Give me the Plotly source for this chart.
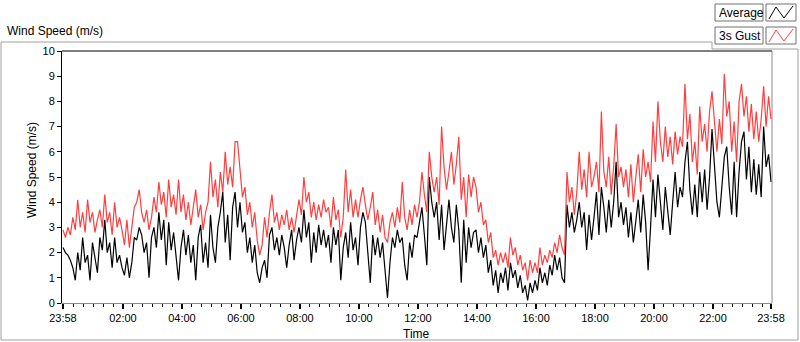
import plotly.graph_objects as go

# time in minutes after 23:58 (start of record), 5-minute steps
minutes = list(range(0, 1445, 5))

gust_3s = [
    # 23:58
    2.9, 2.6, 3.0, 2.7, 3.4, 2.9, 4.1, 3.0, 3.6, 2.8, 4.1, 3.2,
    # 00:58
    3.6, 2.8, 3.3, 3.7, 3.0, 4.3, 3.2, 3.6, 2.7, 4.0, 3.0, 3.4,
    # 01:58
    2.9, 2.3, 3.3, 2.2, 3.0, 3.8, 4.0, 4.5, 3.6, 3.2, 3.7, 2.9,
    # 02:58
    3.4, 4.2, 3.6, 4.8, 3.9, 4.4, 3.4, 4.9, 3.8, 4.3, 3.5, 4.9,
    # 03:58
    3.6, 4.3, 3.3, 4.0, 3.1, 3.8, 4.5, 3.4, 3.9, 2.9, 3.6, 4.0,
    # 04:58
    5.6, 4.2, 4.9, 3.8, 5.2, 4.4, 6.0, 4.7, 5.4, 4.6, 6.4, 6.4,
    # 05:58
    5.4, 4.2, 4.6, 3.5, 4.0, 3.0, 3.6, 2.5, 1.9, 2.3, 3.4, 2.6,
    # 06:58
    3.6, 4.3, 3.2, 3.6, 2.9, 3.5, 3.1, 3.7, 2.9, 3.4, 2.8, 3.5,
    # 07:58
    4.1, 3.5, 5.0, 4.0, 4.4, 3.4, 4.0, 3.3, 3.9, 3.4, 4.1, 3.6,
    # 08:58
    3.8, 3.0, 4.2, 3.3, 3.7, 2.6, 3.4, 5.3, 3.6, 4.5, 3.4, 4.1,
    # 09:58
    3.4, 4.1, 4.6, 3.9, 3.3, 3.8, 4.4, 3.1, 3.7, 2.8, 3.5, 2.6,
    # 10:58
    2.4, 3.2, 3.6, 3.0, 3.8, 3.2, 4.8, 3.4, 2.9, 3.7, 3.1, 3.9,
    # 11:58
    3.4, 4.0, 5.2, 4.3, 3.6, 6.0, 5.0, 4.4, 5.0, 3.9, 7.0, 5.4,
    # 12:58
    4.5, 5.2, 6.0, 4.7, 5.5, 6.6, 4.1, 5.0, 3.4, 5.1, 4.2, 5.0,
    # 13:58
    4.6, 3.6, 4.0, 3.1, 3.3, 2.4, 2.8, 1.8, 2.1, 1.5, 2.0, 1.6,
    # 14:58
    2.0, 1.4, 2.6, 1.9, 2.2, 1.5, 1.9, 1.3, 1.6, 0.9, 1.7, 1.2,
    # 15:58
    1.6, 1.2, 2.2, 1.5, 1.9, 1.6, 2.1, 1.8, 2.4, 2.0, 2.7, 2.2,
    # 16:58
    1.9, 5.2, 4.0, 4.6, 3.5, 4.4, 6.0, 4.5, 5.3, 4.2, 6.0, 4.6,
    # 17:58
    5.0, 5.6, 4.4, 7.6, 5.2, 4.6, 5.8, 4.3, 5.4, 7.1, 5.0, 5.4,
    # 18:58
    4.6, 5.3, 4.2, 5.5, 4.0, 5.0, 5.9, 4.4, 6.1, 5.0, 5.6, 4.8,
    # 19:58
    7.2, 5.6, 8.0, 6.4, 5.6, 7.0, 5.8, 6.6, 5.5, 6.8, 5.9, 6.6,
    # 20:58
    6.2, 8.7, 6.5, 7.5, 5.6, 6.4, 5.1, 7.8, 6.4, 7.1, 6.0, 7.6,
    # 21:58
    8.4, 7.2, 6.0, 7.3, 6.3, 9.1, 7.4, 8.0, 6.0, 7.2, 5.6, 8.0,
    # 22:58
    8.7, 7.4, 8.2, 6.8, 7.9, 6.5, 7.6, 6.4, 7.3, 8.6, 7.0, 8.2,
    # 23:58
    7.3,
]

average = [
    # 23:58
    2.2, 2.0, 1.9, 1.7, 1.4, 0.9, 2.0, 1.3, 2.6, 1.6, 1.9, 0.9,
    # 00:58
    2.4, 1.8, 1.2, 2.6, 2.1, 3.3, 2.0, 2.4, 1.4, 2.6, 1.6, 1.9,
    # 01:58
    1.4, 1.1, 1.8, 1.0, 1.6, 2.6, 2.5, 3.0, 2.7, 2.0, 2.4, 1.0,
    # 02:58
    2.6, 3.0, 2.2, 3.6, 2.5, 3.3, 1.5, 3.2, 2.1, 2.8, 1.8, 0.9,
    # 03:58
    2.2, 2.9, 1.9, 2.7, 1.6, 2.3, 0.9, 2.6, 3.1, 1.6, 2.4, 1.4,
    # 04:58
    3.5, 2.2, 1.6, 3.0, 3.6, 4.4, 2.4, 3.5, 1.7, 3.8, 4.4, 3.0,
    # 05:58
    4.0, 2.8, 3.2, 2.0, 2.6, 1.6, 2.3, 1.2, 0.8, 1.4, 1.7, 1.0,
    # 06:58
    2.7, 3.0, 2.1, 2.6, 1.9, 2.7, 2.2, 1.4, 2.3, 2.9, 1.7, 2.5,
    # 07:58
    3.0, 2.4, 3.7, 2.6, 3.2, 1.6, 2.8, 2.0, 3.1, 2.3, 2.9, 2.2,
    # 08:58
    2.7, 1.6, 3.0, 2.3, 2.9, 0.9, 2.2, 2.8, 1.8, 3.2, 2.1, 2.6,
    # 09:58
    1.5, 3.0, 3.6, 3.2, 2.0, 0.8, 2.7, 1.9, 2.6, 1.8, 2.4, 1.3,
    # 10:58
    0.2, 1.6, 2.6, 2.2, 2.9, 2.4, 2.6, 1.5, 0.9, 2.4, 1.8, 2.7,
    # 11:58
    2.6, 3.2, 3.8, 2.7, 1.5, 5.0, 4.0, 3.4, 4.0, 2.5, 3.9, 2.1,
    # 12:58
    3.2, 4.1, 3.0, 2.4, 3.9, 2.9, 0.8, 3.3, 1.6, 3.0, 2.2, 2.8,
    # 13:58
    2.9, 2.0, 2.6, 1.8, 2.3, 1.2, 1.7, 0.7, 1.3, 0.4, 1.2, 0.8,
    # 14:58
    1.4, 0.5, 1.6, 1.0, 1.3, 0.6, 1.1, 0.4, 0.7, 0.1, 0.8, 0.4,
    # 15:58
    0.9, 0.5, 1.4, 0.8, 1.2, 0.7, 1.5, 1.1, 1.9, 1.3, 1.8, 1.0,
    # 16:58
    0.8, 3.9, 3.0, 3.6, 2.8, 3.3, 4.0, 3.0, 3.6, 2.1, 3.5, 2.5,
    # 17:58
    3.4, 4.4, 2.7, 4.6, 3.8, 2.8, 4.1, 3.0, 4.0, 5.6, 3.4, 4.0,
    # 18:58
    3.1, 3.8, 2.6, 3.6, 2.4, 3.3, 4.1, 2.8, 4.3, 3.2, 1.3, 3.0,
    # 19:58
    4.9, 3.4, 5.1, 4.0, 2.9, 4.6, 3.6, 2.7, 4.0, 5.2, 3.8, 4.6,
    # 20:58
    4.2, 5.6, 6.4, 4.5, 3.5, 4.7, 3.4, 5.2, 4.0, 5.3, 3.7, 5.0,
    # 21:58
    6.9, 5.5, 4.0, 3.4, 4.8, 5.8, 6.2, 4.6, 3.5, 5.6, 3.4, 5.2,
    # 22:58
    6.4, 6.8, 4.9, 6.2, 4.4, 5.7, 4.3, 5.5, 4.2, 7.0, 5.4, 5.9,
    # 23:58
    4.8,
]

tick_minutes = [0, 122, 242, 362, 482, 602, 722, 842, 962, 1082, 1202, 1322, 1440]
tick_labels = ["23:58", "02:00", "04:00", "06:00", "08:00", "10:00", "12:00",
               "14:00", "16:00", "18:00", "20:00", "22:00", "23:58"]

W, H = 800, 342
L, R, T, B = 62, 772, 51, 303  # plot area in pixels


def px(x):
    return (x - L) / (R - L)


def py(y):
    return (B - y) / (B - T)


FONT = "Liberation Sans, Arial, sans-serif"

fig = go.Figure()
fig.add_trace(go.Scatter(x=minutes, y=average, mode="lines", name="Average",
                         line=dict(color="#000000", width=1.2), showlegend=False))
fig.add_trace(go.Scatter(x=minutes, y=gust_3s, mode="lines", name="3s Gust",
                         line=dict(color="#ff3f3f", width=1.2), showlegend=False))

minor_vals = [m for m in range(22, 1440, 20) if m not in tick_minutes]

fig.update_layout(
    width=W, height=H,
    margin=dict(l=L, r=W - R, t=T, b=H - B, pad=0),
    paper_bgcolor="white", plot_bgcolor="white",
    font=dict(family=FONT, size=11, color="#000000"),
    xaxis=dict(
        range=[-2, 1442], tickmode="array", tickvals=tick_minutes, ticktext=tick_labels,
        ticks="outside", ticklen=5, tickwidth=2, tickcolor="#000000",
        showgrid=False, zeroline=False, showline=True, linecolor="#8a8a8a", linewidth=1,
        tickfont=dict(size=11),
        minor=dict(tickmode="array", tickvals=minor_vals, ticks="outside", ticklen=3,
                   tickwidth=1, tickcolor="#000000", showgrid=False),
    ),
    yaxis=dict(
        range=[0, 10], tickmode="linear", tick0=0, dtick=1,
        ticks="outside", ticklen=4, tickwidth=1, tickcolor="#000000",
        showgrid=False, zeroline=False, showline=True, linecolor="#000000", linewidth=1,
        tickfont=dict(size=11),
    ),
)

shapes = []
# plot-area frame: top black, right grey
shapes.append(dict(type="line", xref="paper", yref="paper", x0=0, x1=1, y0=1, y1=1,
                   line=dict(color="#000000", width=1)))
shapes.append(dict(type="line", xref="paper", yref="paper", x0=1, x1=1, y0=0, y1=1,
                   line=dict(color="#8a8a8a", width=1)))
# outer panel frame
frame_col = "#a0a0a0"
for (x0, y0, x1, y1) in [(1, 42, 1, 340), (1, 340, 798, 340), (798, 49, 798, 340),
                         (1, 42, 712, 42), (712, 42, 712, 49), (712, 49, 798, 49)]:
    shapes.append(dict(type="line", xref="paper", yref="paper",
                       x0=px(x0), x1=px(x1), y0=py(y0), y1=py(y1),
                       line=dict(color=frame_col, width=1)))
# legend boxes
for (x0, y0, x1, y1) in [(715, 4, 763, 21), (766, 4, 796, 21),
                         (715, 27, 763, 44), (766, 27, 796, 44)]:
    shapes.append(dict(type="rect", xref="paper", yref="paper",
                       x0=px(x0), x1=px(x1), y0=py(y0), y1=py(y1),
                       line=dict(color="#707070", width=1), fillcolor="white"))
# legend line icons
for dy, col in [(0, "#000000"), (23, "#ff3f3f")]:
    pts = [(769, 19 + dy), (776, 7 + dy), (784, 18 + dy), (793, 6 + dy)]
    path = "M " + " L ".join(f"{px(a):.5f},{py(b):.5f}" for a, b in pts)
    shapes.append(dict(type="path", xref="paper", yref="paper", path=path,
                       line=dict(color=col, width=1)))
fig.update_layout(shapes=shapes)

annotations = [
    dict(text="Wind Speed (m/s)", x=px(5), y=py(31), xanchor="left", yanchor="middle",
         font=dict(size=12)),
    dict(text="Wind Speed (m/s)", x=px(32), y=py(170), xanchor="center", yanchor="middle",
         textangle=-90, font=dict(size=12)),
    dict(text="Time", x=px(416), y=py(334), xanchor="center", yanchor="middle",
         font=dict(size=12)),
    dict(text="Average", x=px(717), y=py(12.5), xanchor="left", yanchor="middle",
         font=dict(size=12)),
    dict(text="3s Gust", x=px(717), y=py(35.5), xanchor="left", yanchor="middle",
         font=dict(size=12)),
]
for a in annotations:
    a.update(xref="paper", yref="paper", showarrow=False)
fig.update_layout(annotations=annotations)

fig.write_html("out.html", config={"displayModeBar": False},
               post_script="document.body.style.margin='0';")
